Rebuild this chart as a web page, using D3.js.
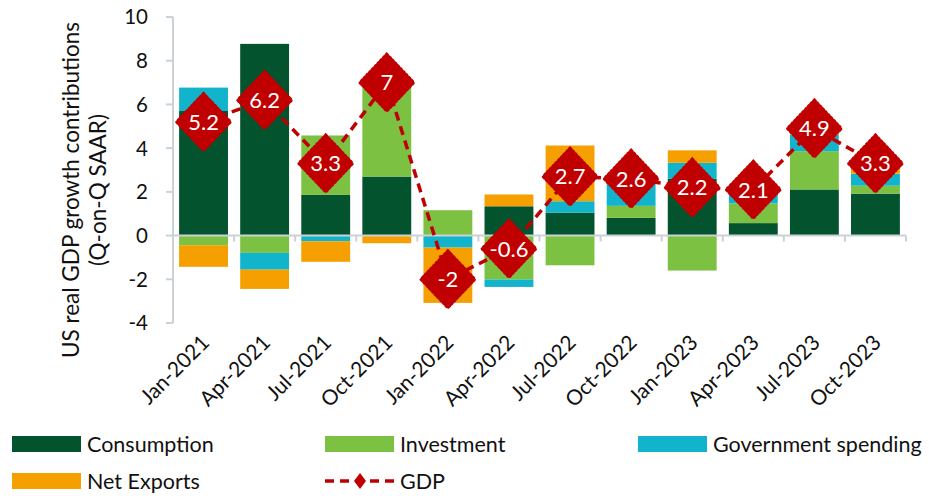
<!DOCTYPE html>
<html lang="en">
<head>
    <meta charset="utf-8">
    <title>US real GDP growth contributions</title>
    <style>
        body {
            margin: 0;
            background: #fff;
        }

        svg {
            font-family: Lato, "Open Sans", sans-serif;
        }

        .axis-line {
            stroke: #ccd1d6;
            stroke-width: 2;
        }
    </style>
</head>
<body>

<svg width="929" height="496"></svg>

<script src="https://d3js.org/d3.v7.min.js"></script>
<script>

    // ---- data ----
    const quarters = ["Jan-2021", "Apr-2021", "Jul-2021", "Oct-2021", "Jan-2022", "Apr-2022",
        "Jul-2022", "Oct-2022", "Jan-2023", "Apr-2023", "Jul-2023", "Oct-2023"];
    const consumption = [5.70, 8.77, 1.86, 2.70, 0.00, 1.34, 1.04, 0.81, 2.60, 0.57, 2.11, 1.92];
    const investment = [-0.44, -0.79, 2.72, 4.05, 1.16, -2.01, -1.36, 0.55, -1.60, 0.90, 1.75, 0.36];
    const government = [1.07, -0.77, -0.26, 0.00, -0.55, -0.34, 0.53, 1.00, 0.73, 0.60, 0.76, 0.55];
    const netExports = [-0.99, -0.88, -0.94, -0.35, -2.53, 0.54, 2.55, 0.15, 0.57, 0.00, 0.05, 0.45];
    const gdp = [5.2, 6.2, 3.3, 7, -2, -0.6, 2.7, 2.6, 2.2, 2.1, 4.9, 3.3];
    const yTicks = [-4, -2, 0, 2, 4, 6, 8, 10];

    const seriesNames = ["Consumption", "Investment", "Government spending", "Net Exports"];
    const seriesKeys = ["consumption", "investment", "government", "netExports"];
    const colors = ["#03532f", "#7cc142", "#12b4cb", "#f5a000"];
    const gdpColor = "#c00000";

    const rows = quarters.map((q, i) => ({
        quarter: q,
        consumption: consumption[i],
        investment: investment[i],
        government: government[i],
        netExports: netExports[i]
    }));

    const svg = d3.select("svg");

    const x = d3.scaleBand()
        .domain(quarters)
        .range([173, 906])
        .paddingInner(0.2)
        .paddingOuter(0.1);

    const y = d3.scaleLinear()
        .domain([-4, 10])
        .range([323, 17]);

    // stacked bars, negatives stacked downwards
    const stacked = d3.stack()
        .keys(seriesKeys)
        .offset(d3.stackOffsetDiverging)(rows);

    svg.append("g")
        .selectAll("g")
        .data(stacked)
        .join("g")
        .attr("fill", (d, i) => colors[i])
        .selectAll("rect")
        .data(d => d)
        .join("rect")
        .attr("x", d => x(d.data.quarter))
        .attr("width", x.bandwidth())
        .attr("y", d => y(Math.max(d[0], d[1])))
        .attr("height", d => Math.abs(y(d[0]) - y(d[1])));

    // y axis
    const yAxis = svg.append("g");
    yAxis.append("line")
        .attr("class", "axis-line")
        .attr("x1", 173).attr("x2", 173)
        .attr("y1", y(10)).attr("y2", y(-4));
    yAxis.selectAll(".ytick")
        .data(yTicks)
        .join("line")
        .attr("class", "axis-line")
        .attr("x1", 166).attr("x2", 173)
        .attr("y1", d => y(d)).attr("y2", d => y(d));
    yAxis.selectAll("text")
        .data(yTicks)
        .join("text")
        .attr("x", 148)
        .attr("y", d => y(d))
        .attr("dy", "0.36em")
        .attr("text-anchor", "end")
        .attr("font-size", 20.5)
        .attr("fill", "#111")
        .text(d => d);

    // zero line + category ticks
    const xAxis = svg.append("g");
    xAxis.append("line")
        .attr("class", "axis-line")
        .attr("x1", 173).attr("x2", 906)
        .attr("y1", y(0)).attr("y2", y(0));
    const step = x.step();
    xAxis.selectAll(".xtick")
        .data(d3.range(quarters.length + 1))
        .join("line")
        .attr("class", "axis-line")
        .attr("x1", i => 173 + i * step)
        .attr("x2", i => 173 + i * step)
        .attr("y1", y(0)).attr("y2", y(0) + 6);

    xAxis.selectAll("text")
        .data(quarters)
        .join("text")
        .attr("text-anchor", "end")
        .attr("font-size", 21)
        .attr("fill", "#111")
        .attr("transform", d => `translate(${x(d) + x.bandwidth() / 2 + 7},${344}) rotate(-45)`)
        .text(d => d);

    // axis title
    const title = svg.append("text")
        .attr("transform", "translate(71,190) rotate(-90)")
        .attr("text-anchor", "middle")
        .attr("font-size", 22.5)
        .attr("fill", "#111");
    title.append("tspan").attr("x", 0).attr("dy", "0.35em").text("US real GDP growth contributions");
    title.append("tspan").attr("x", 0).attr("dy", "1.2em").text("(Q-on-Q SAAR)");

    // GDP line with diamond markers
    const cx = d => x(d) + x.bandwidth() / 2;
    const line = d3.line()
        .x((d, i) => cx(quarters[i]))
        .y(d => y(d));

    svg.append("path")
        .datum(gdp)
        .attr("d", line)
        .attr("fill", "none")
        .attr("stroke", gdpColor)
        .attr("stroke-width", 3.5)
        .attr("stroke-dasharray", "9,6");

    const diamond = (w, h) => `M0,${-h}L${w},0L0,${h}L${-w},0Z`;

    const marks = svg.append("g")
        .selectAll("g")
        .data(gdp)
        .join("g")
        .attr("transform", (d, i) => `translate(${cx(quarters[i])},${y(d)})`);
    marks.append("path")
        .attr("d", diamond(27, 28.5))
        .attr("fill", gdpColor)
        .attr("stroke", gdpColor)
        .attr("stroke-width", 3)
        .attr("stroke-linecap", "round")
        .attr("stroke-dasharray", "1.5,2.5");
    marks.append("text")
        .attr("text-anchor", "middle")
        .attr("dy", "0.36em")
        .attr("font-size", 22)
        .attr("fill", "#fff")
        .text(d => d);

    // legend
    const legendItems = [
        {name: seriesNames[0], color: colors[0], x: 12, y: 444},
        {name: seriesNames[1], color: colors[1], x: 325, y: 444},
        {name: seriesNames[2], color: colors[2], x: 638, y: 444},
        {name: seriesNames[3], color: colors[3], x: 12, y: 481}
    ];
    const legend = svg.append("g");
    const li = legend.selectAll("g")
        .data(legendItems)
        .join("g")
        .attr("transform", d => `translate(${d.x},${d.y})`);
    li.append("rect")
        .attr("x", 0).attr("y", -8)
        .attr("width", 69).attr("height", 16)
        .attr("fill", d => d.color);
    li.append("text")
        .attr("x", 75)
        .attr("dy", "0.36em")
        .attr("font-size", 21.5)
        .attr("fill", "#111")
        .text(d => d.name);

    const gl = legend.append("g").attr("transform", "translate(325,481)");
    gl.append("line")
        .attr("x1", 0).attr("x2", 69)
        .attr("stroke", gdpColor)
        .attr("stroke-width", 3.5)
        .attr("stroke-dasharray", "9,6");
    gl.append("path")
        .attr("transform", "translate(35,0)")
        .attr("d", diamond(6, 8))
        .attr("fill", gdpColor);
    gl.append("text")
        .attr("x", 75)
        .attr("dy", "0.36em")
        .attr("font-size", 21.5)
        .attr("fill", "#111")
        .text("GDP");

</script>

</body>
</html>
